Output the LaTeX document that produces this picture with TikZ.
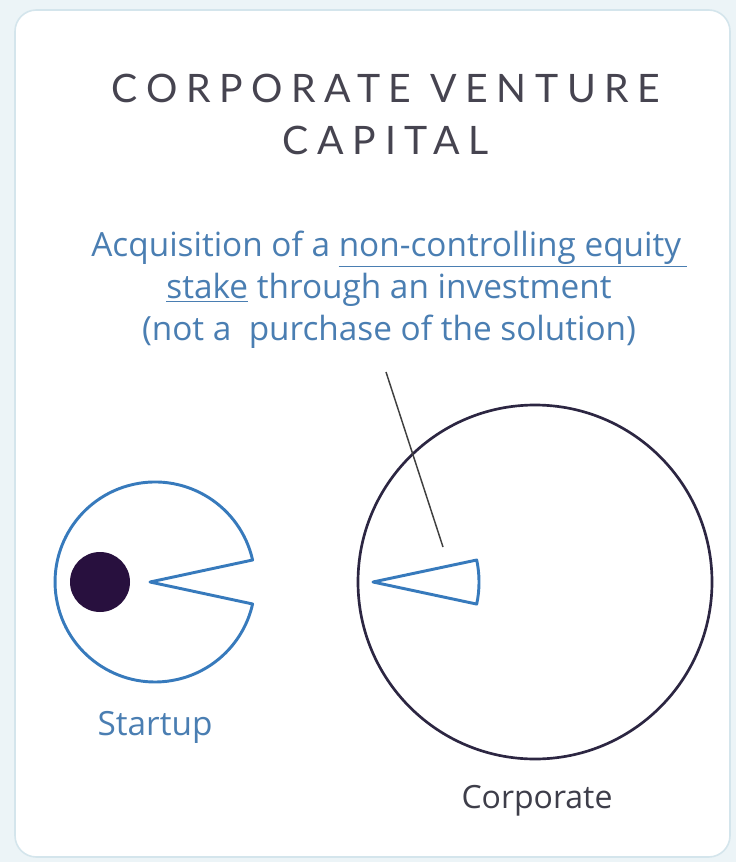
\documentclass[tikz,border=0pt]{standalone}
\usepackage{fontspec}
\usepackage{tikz}
\usetikzlibrary{arrows.meta,calc,positioning}
\setmainfont{Open Sans}
\newfontfamily\titlefont[LetterSpace=22]{Lato}
\definecolor{PageBg}{RGB}{236,244,247}
\definecolor{CardLine}{RGB}{212,229,236}
\definecolor{TitleGrey}{RGB}{70,68,80}
\definecolor{NoteBlue}{RGB}{74,126,178}
\definecolor{StrokeBlue}{RGB}{55,122,188}
\definecolor{PlumDot}{RGB}{40,16,62}
\definecolor{CorpLine}{RGB}{44,38,66}
\definecolor{LabelGrey}{RGB}{62,62,74}

\begin{document}
\begin{tikzpicture}[x=0.75pt,y=-0.75pt,>=Latex,
    bluestroke/.style={StrokeBlue,line width=2.2,line join=round},
    bluetext/.style={text=NoteBlue,font=\fontsize{25}{31.5}\selectfont,align=center}]
      \useasboundingbox (0,0) rectangle (736,862);
      \fill[PageBg] (0,0) rectangle (736,862);
      \draw[CardLine,fill=white,line width=1.2,rounded corners=16] (15,10) rectangle (730,857);
      \node[text=TitleGrey,align=center,font=\titlefont\fontsize{29.4}{39}\selectfont] (title) at (386,114)
        {CORPORATE VENTURE\\CAPITAL};
      \node[bluetext] (note) at (389,290)
        {Acquisition of a \underline{non-controlling equity\,}\\\underline{stake} through an investment\\(not a\ \ purchase of the solution)};
      % startup
      \draw[bluestroke] (150,582) -- (252.6,560) arc[start angle=-12.7,end angle=-347.3,radius=100] -- cycle;
      \fill[PlumDot] (100,582) circle[radius=30];
      \node[bluetext] (startup) at (155,727) {Startup};
      % corporate
      \draw[CorpLine,line width=2] (535,582) circle[radius=177];
      \draw[bluestroke] (373,582) -- (476.7,560) arc[start angle=-12,end angle=12,radius=106] -- cycle;
      \node[text=LabelGrey,font=\fontsize{24}{28}\selectfont] (corporate) at (537,801) {Corporate};
      \coordinate (ptrtop) at (386,372);
      \coordinate (ptrend) at (443,547);
      \draw[black!75,line width=1.1] (ptrtop) -- (ptrend);
    \end{tikzpicture}
\end{document}
